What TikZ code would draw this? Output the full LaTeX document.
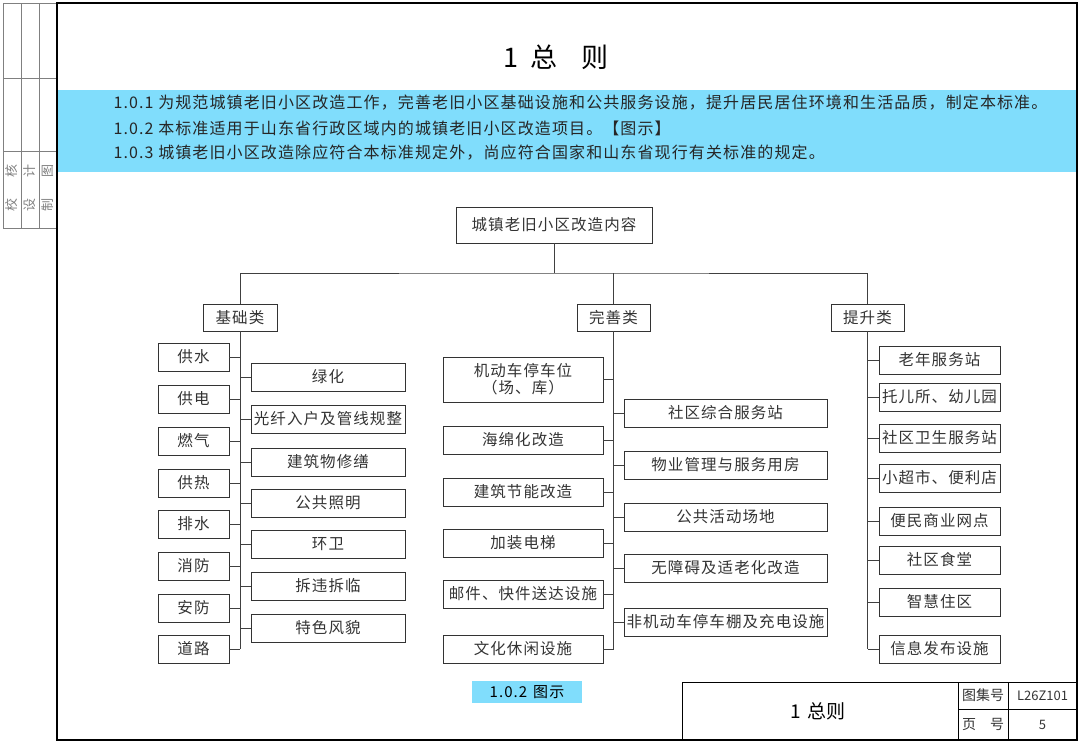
\documentclass[tikz,border=0pt]{standalone}
\usepackage{fontspec}
\setmainfont{Noto Sans CJK SC}
\newfontfamily\spacedfont{Noto Sans CJK SC}[LetterSpace=7]
\usetikzlibrary{positioning}
\definecolor{bandblue}{RGB}{128,221,252}

\begin{document}
\begin{tikzpicture}[x=1pt,y=-1pt,
  box/.style={draw=black!80,line width=0.9pt,inner sep=0pt,minimum height=28,text=black!80,
    align=center,font=\spacedfont\fontsize{15.5}{17}\selectfont},
  link/.style={draw=black!75,line width=0.9pt},
  line/.style={text=black!85,anchor=west,font=\spacedfont\fontsize{16}{18}\selectfont}]
  \useasboundingbox (0,0) rectangle (1080,744);
  % frame and side strip
  \draw[gray,line width=0.8pt] (3,3) rectangle (57,228);
  \draw[gray,line width=0.8pt] (21,3) -- (21,228) (39,3) -- (39,228) (3,78) -- (57,78) (3,151) -- (57,151);
  \foreach \cx/\ca/\cb in {12/校/核,30/设/计,48/制/图}
    \node[rotate=90,text=gray,font=\fontsize{13}{14}\selectfont] (sb\cx) at (\cx,188) {\ca\hspace{21pt}\cb};
  \fill[bandblue] (57,90) rectangle (1077,172);
  \draw[line width=2.5pt] (57,3) rectangle (1077,740);
  \node[font=\fontsize{27}{30}\selectfont] (title) at (556,57) {1\hspace{12pt}总\hspace{24pt}则};
  \node[line] (t1) at (110,103) {1.0.1 为规范城镇老旧小区改造工作，完善老旧小区基础设施和公共服务设施，提升居民居住环境和生活品质，制定本标准。};
  \node[line] (t2) at (110,128) {1.0.2 本标准适用于山东省行政区域内的城镇老旧小区改造项目。【图示】};
  \node[line] (t3) at (110,153) {1.0.3 城镇老旧小区改造除应符合本标准规定外，尚应符合国家和山东省现行有关标准的规定。};

  % tree
  \node[box,minimum width=196,minimum height=36] (root) at (554,225) {城镇老旧小区改造内容};
  \node[box,minimum width=74,minimum height=27] (jc) at (240,317.5) {基础类};
  \node[box,minimum width=73,minimum height=27] (ws) at (613.5,317.5) {完善类};
  \node[box,minimum width=73,minimum height=27] (ts) at (867.5,317.5) {提升类};
  \coordinate (bus) at (554,273);
  \draw[link] (root.south) -- (bus);
  \draw[link] (jc.north) |- (bus) -| (ts.north);
  \draw[link] (ws.north) -- (ws.north |- bus);

  % 基础类
  \foreach \i/\y/\lbl in {1/357/供水,2/399/供电,3/441/燃气,4/483/供热,5/524/排水,6/566/消防,7/608/安防,8/649/道路}{
    \node[box,minimum width=71] (ja\i) at (193.5,\y) {\lbl};
    \draw[link] (ja\i.east) -- (ja\i.east -| jc.south);
  }
  \foreach \i/\y/\lbl in {1/377/绿化,2/419/光纤入户及管线规整,3/462/建筑物修缮,4/503/公共照明,5/544/环卫,6/586/拆违拆临,7/628/特色风貌}{
    \node[box,minimum width=154] (jb\i) at (328,\y) {\lbl};
    \draw[link] (jb\i.west) -- (jb\i.west -| jc.south);
  }
  \draw[link] (jc.south) -- (jc.south |- ja8.east);

  % 完善类
  \node[box,minimum width=160,minimum height=45] (wa1) at (523,379.5) {机动车停车位\\（场、库）};
  \draw[link] (wa1.east) -- (wa1.east -| ws.south);
  \foreach \i/\y/\lbl in {2/440/海绵化改造,3/492/建筑节能改造,4/543/加装电梯,5/594/邮件、快件送达设施,6/649/文化休闲设施}{
    \node[box,minimum width=160] (wa\i) at (523,\y) {\lbl};
    \draw[link] (wa\i.east) -- (wa\i.east -| ws.south);
  }
  \foreach \i/\y/\lbl in {1/413/社区综合服务站,2/465/物业管理与服务用房,3/517/公共活动场地,4/568/无障碍及适老化改造,5/622/非机动车停车棚及充电设施}{
    \node[box,minimum width=203] (wb\i) at (725.5,\y) {\lbl};
    \draw[link] (wb\i.west) -- (wb\i.west -| ws.south);
  }
  \draw[link] (ws.south) -- (ws.south |- wa6.east);

  % 提升类
  \foreach \i/\y/\lbl in {1/360/老年服务站,2/397/托儿所、幼儿园,3/438/社区卫生服务站,4/478/小超市、便利店,5/521/便民商业网点,6/560/社区食堂,7/602/智慧住区,8/649/信息发布设施}{
    \node[box,minimum width=121] (ta\i) at (939.5,\y) {\lbl};
    \draw[link] (ta\i.west) -- (ta\i.west -| ts.south);
  }
  \draw[link] (ts.south) -- (ts.south |- ta8.west);

  \node[fill=bandblue,minimum width=110,minimum height=22,inner sep=0pt,font=\spacedfont\fontsize{15}{17}\selectfont] (cap) at (527,692) {1.0.2\hspace{6pt}图示};

  % title block
  \draw[line width=1pt] (682,682) rectangle (1077,740);
  \draw[line width=1pt] (958,682) -- (958,740) (1008,682) -- (1008,740) (958,709) -- (1077,709);
  \node[font=\fontsize{19}{21}\selectfont] (tbname) at (818,711) {1\hspace{6pt}总则};
  \node[font=\fontsize{14}{16}\selectfont,text=black!80] (tbk1) at (983,695.5) {图集号};
  \node[font=\fontsize{13}{16}\selectfont,text=black!80] (tbv1) at (1042.5,695.5) {L26Z101};
  \node[font=\fontsize{14}{16}\selectfont,text=black!80] (tbk2) at (983,724.5) {页\hspace{14pt}号};
  \node[font=\fontsize{13}{16}\selectfont,text=black!80] (tbv2) at (1042.5,724.5) {5};
\end{tikzpicture}
\end{document}
